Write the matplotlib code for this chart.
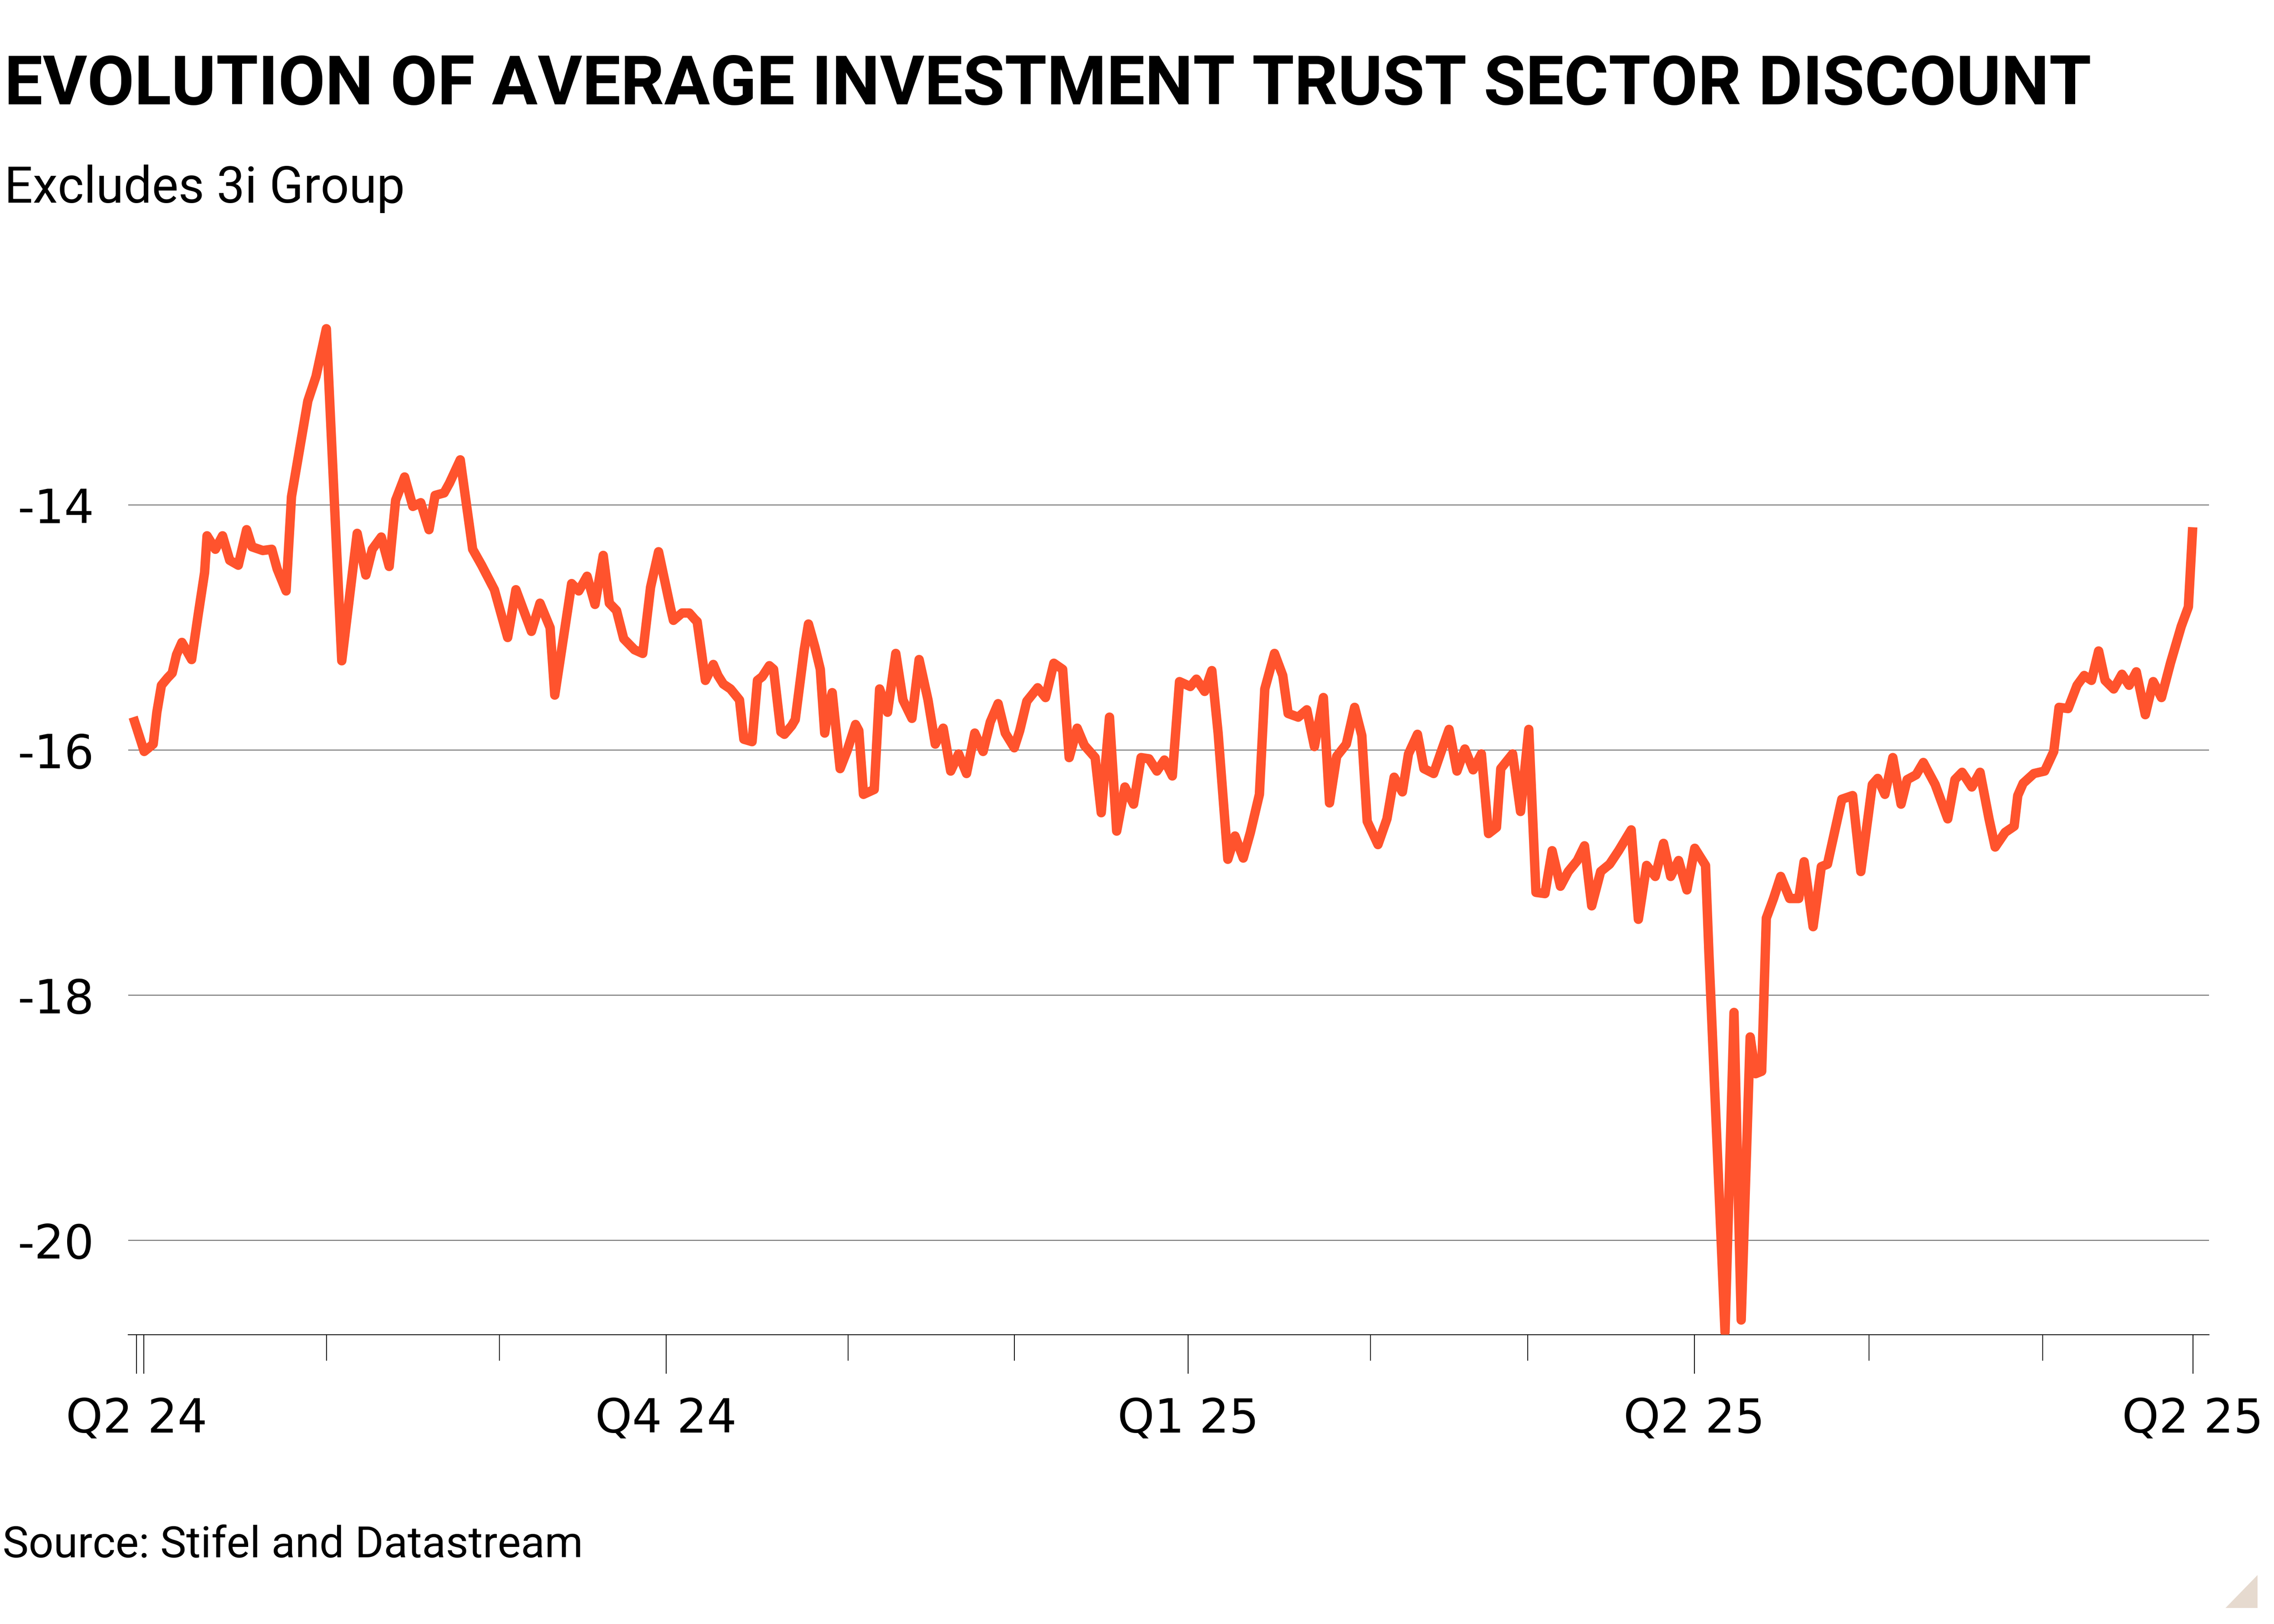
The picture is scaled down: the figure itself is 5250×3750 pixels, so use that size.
import matplotlib
matplotlib.use("Agg")
import matplotlib.pyplot as plt
from matplotlib.patches import Polygon

# trading-day index (0 = first tick) and sector discount (%)
days = [
    -0.4, 0.95, 2.05, 2.5, 3.06, 3.81, 4.38, 4.91, 5.57, 6.76,
    7.55, 8.35, 8.65, 9.67, 10.55, 11.43, 12.48, 13.5, 14.16, 15.48,
    16.58, 17.24, 18.34, 19.0, 21.0, 22.0, 23.27, 25.16, 27.05, 28.11,
    28.9, 30.0, 30.97, 31.76, 32.86, 33.87, 34.84, 35.85, 36.6, 37.7,
    38.36, 39.68, 41.2, 42.3, 43.86, 45.49, 46.5, 48.4, 49.45, 50.69,
    51.26, 53.33, 54.2, 55.22, 56.19, 57.2, 57.95, 58.83, 59.71, 61.03,
    62.04, 63.0, 63.98,
    65.45, 65.8, 66.86, 67.74, 68.4, 68.71, 69.72, 70.69, 71.26, 71.92,
    72.8, 73.9, 74.43, 75.44, 76.1, 76.68, 77.56, 78.08, 78.97, 79.4,
    80.29, 80.73, 81.83, 82.35, 83.15, 83.8, 84.34, 84.78, 85.26, 86.23,
    87.11, 88.12, 88.52, 89.09, 90.41, 91.07, 92.04, 93.05, 93.93, 95.03,
    95.91, 97.0, 97.89, 98.86, 99.78, 100.75, 101.72, 102.73, 103.75, 104.63,
    105.59, 106.47, 107.57, 108.24, 109.11, 110.44, 111.4, 112.42, 113.5, 114.3,
    115.28, 116.16, 117.48, 118.23, 119.24, 120.12, 121.13, 122.19, 123.11, 124.08,
    125.05, 125.97, 126.94, 127.82, 129.14, 129.89, 130.9, 131.78,
    132.55, 133.74, 134.62, 135.63, 136.51, 137.61, 138.27, 139.46, 140.47, 141.13,
    142.37, 143.42, 144.35, 145.45, 146.2, 147.08, 148.26, 149.28, 150.16, 150.82,
    152.14, 153.24, 154.12, 155.13, 155.88, 156.98, 157.77, 158.96, 159.84, 160.85,
    161.82, 162.79, 163.8, 164.81, 165.69, 166.66, 167.19, 168.64, 169.61, 170.62,
    171.5, 172.6, 173.48, 174.5, 175.46, 176.57, 177.45, 178.33, 179.43, 180.53,
    181.63, 183.17, 184.05, 185.06, 186.12, 187.13, 188.01, 188.98, 190.0, 190.96,
    192.28,
    192.69, 194.67, 195.77, 196.65, 197.75, 198.41, 199.16, 199.73, 200.61, 201.49,
    202.59, 203.7, 204.36, 205.46, 206.47, 207.22, 208.98, 210.3, 211.31, 212.72,
    213.38, 214.26, 215.23, 216.24, 216.99, 218.09, 218.97, 220.42, 221.96, 222.84,
    223.72, 224.91, 225.92, 227.02, 227.77, 229.0, 230.1, 230.54, 231.2, 232.52,
    233.84, 234.95, 235.6, 236.71, 237.81, 238.69, 239.57, 240.45, 241.24, 242.3,
    243.31, 244.19, 245.07, 246.17, 247.14, 248.15, 249.25, 250.57, 251.45, 251.98,
]
discount = [
    -15.73, -16.01, -15.95, -15.69, -15.47, -15.41, -15.37, -15.22, -15.12, -15.26,
    -14.90, -14.55, -14.25, -14.36, -14.25, -14.45, -14.49, -14.20, -14.34, -14.37,
    -14.36, -14.52, -14.70, -13.93, -13.15, -12.95, -12.56, -15.27, -14.23, -14.57,
    -14.36, -14.26, -14.50, -13.96, -13.77, -14.01, -13.98, -14.20, -13.92, -13.90,
    -13.82, -13.63, -14.36, -14.49, -14.69, -15.08, -14.69, -15.03, -14.80, -15.00,
    -15.55, -14.64, -14.70, -14.58, -14.81, -14.41, -14.80, -14.86, -15.09, -15.18,
    -15.21, -14.67, -14.38,
    -14.84, -14.94, -14.88, -14.88, -14.93, -14.95, -15.43, -15.30, -15.39, -15.46,
    -15.50, -15.59, -15.91, -15.93, -15.43, -15.40, -15.31, -15.34, -15.85, -15.87,
    -15.80, -15.75, -15.18, -14.97, -15.16, -15.34, -15.86, -15.66, -15.53, -16.15,
    -16.00, -15.79, -15.84, -16.36, -16.32, -15.50, -15.69, -15.21, -15.59, -15.74,
    -15.26, -15.59, -15.95, -15.82, -16.17, -16.03, -16.19, -15.86, -16.01, -15.77,
    -15.62, -15.86, -15.98, -15.84, -15.60, -15.49, -15.57, -15.29, -15.34, -16.06,
    -15.82, -15.96, -16.06, -16.51, -15.73, -16.66, -16.30, -16.44, -16.06, -16.07,
    -16.17, -16.08, -16.21, -15.44, -15.48, -15.42, -15.52, -15.35,
    -15.86, -16.89, -16.70, -16.88, -16.67, -16.36, -15.50, -15.21, -15.39, -15.70,
    -15.73, -15.67, -15.97, -15.57, -16.43, -16.05, -15.95, -15.65, -15.88, -16.58,
    -16.77, -16.56, -16.22, -16.34, -16.03, -15.87, -16.15, -16.19, -16.02, -15.83,
    -16.17, -15.99, -16.16, -16.03, -16.68, -16.63, -16.15, -16.03, -16.50, -15.83,
    -17.16, -17.17, -16.82, -17.11, -16.99, -16.90, -16.78, -17.27, -16.99, -16.93,
    -16.82, -16.65, -17.38, -16.94, -17.03, -16.76, -17.03, -16.90, -17.14, -16.80,
    -16.94,
    -17.65, -20.75, -18.14, -20.65, -18.34, -18.64, -18.62, -17.37, -17.21, -17.03,
    -17.21, -17.21, -16.91, -17.44, -16.95, -16.93, -16.40, -16.37, -16.99, -16.28,
    -16.23, -16.36, -16.06, -16.44, -16.24, -16.20, -16.10, -16.28, -16.56, -16.24,
    -16.18, -16.30, -16.18, -16.56, -16.79, -16.67, -16.62, -16.37, -16.27, -16.19,
    -16.17, -16.01, -15.65, -15.66, -15.47, -15.39, -15.43, -15.19, -15.43, -15.50,
    -15.38, -15.47, -15.36, -15.71, -15.44, -15.57, -15.29, -14.99, -14.83, -14.18,
]

major_ticks = [0, 0.9, 64.9, 128.9, 190.9, 252.0]
major_labels = ["Q2 24", "", "Q4 24", "Q1 25", "Q2 25", "Q2 25"]
minor_ticks = [23.3, 44.5, 87.2, 107.6, 151.2, 170.5, 212.3, 233.6]
y_ticks = [-20, -18, -16, -14]

W, H = 5250, 3750
fig = plt.figure(figsize=(W / 300, H / 300), dpi=300)
fig.patch.set_facecolor("white")

ax = fig.add_axes([296 / W, 1 - 3082 / H, (5100 - 296) / W, (3082 - 685.5) / H])
ax.plot(days, discount, color="#ff532d", lw=5.2,
        solid_joinstyle="round", solid_capstyle="butt", zorder=3)

ax.set_xlim(-1.01, 253.98)
ax.set_ylim(-20.77, -12.3)

ax.set_yticks(y_ticks)
ax.set_yticklabels([str(v) for v in y_ticks])
ax.set_xticks(major_ticks)
ax.set_xticklabels(major_labels)
ax.set_xticks(minor_ticks, minor=True)

for s in ["top", "left", "right"]:
    ax.spines[s].set_visible(False)
ax.spines["bottom"].set_linewidth(0.45)
ax.spines["bottom"].set_color("black")

ax.yaxis.grid(True, color="#6e6e6e", lw=0.5)
ax.set_axisbelow(True)

ax.tick_params(axis="y", length=0, pad=18.7, labelsize=26)
ax.tick_params(axis="x", which="major", length=21.6, width=0.45,
               color="black", pad=12.7, labelsize=26)
ax.tick_params(axis="x", which="minor", length=14.4, width=0.45, color="black")
for lab in ax.get_xticklabels() + ax.get_yticklabels():
    lab.set_fontfamily("DejaVu Sans")

fam = ["Roboto", "DejaVu Sans"]
title = fig.text(10 / W, 1 - 241 / H, "EVOLUTION OF AVERAGE INVESTMENT TRUST SECTOR DISCOUNT",
                 family=fam, weight="bold", fontsize=40, va="baseline", ha="left")
sub = fig.text(10 / W, 1 - 468 / H, "Excludes 3i Group",
               family=fam, fontsize=28, va="baseline", ha="left")
src = fig.text(6 / W, 1 - 3596 / H, "Source: Stifel and Datastream",
               family=fam, fontsize=25, va="baseline", ha="left")

# scale the header/footer texts to the widths seen in the reference
fig.canvas.draw()
renderer = fig.canvas.get_renderer()
for t, target in [(title, 4821), (sub, 924), (src, 1340)]:
    w = t.get_window_extent(renderer).width
    t.set_fontsize(t.get_fontsize() * target / w)

# small beige corner mark
tri = Polygon([[5138 / W, 1 - 3713 / H], [5212 / W, 1 - 3713 / H], [5212 / W, 1 - 3637 / H]],
              closed=True, transform=fig.transFigure, facecolor="#e6dacf", edgecolor="none")
fig.patches.append(tri)

fig.savefig("out.png", dpi=300)
